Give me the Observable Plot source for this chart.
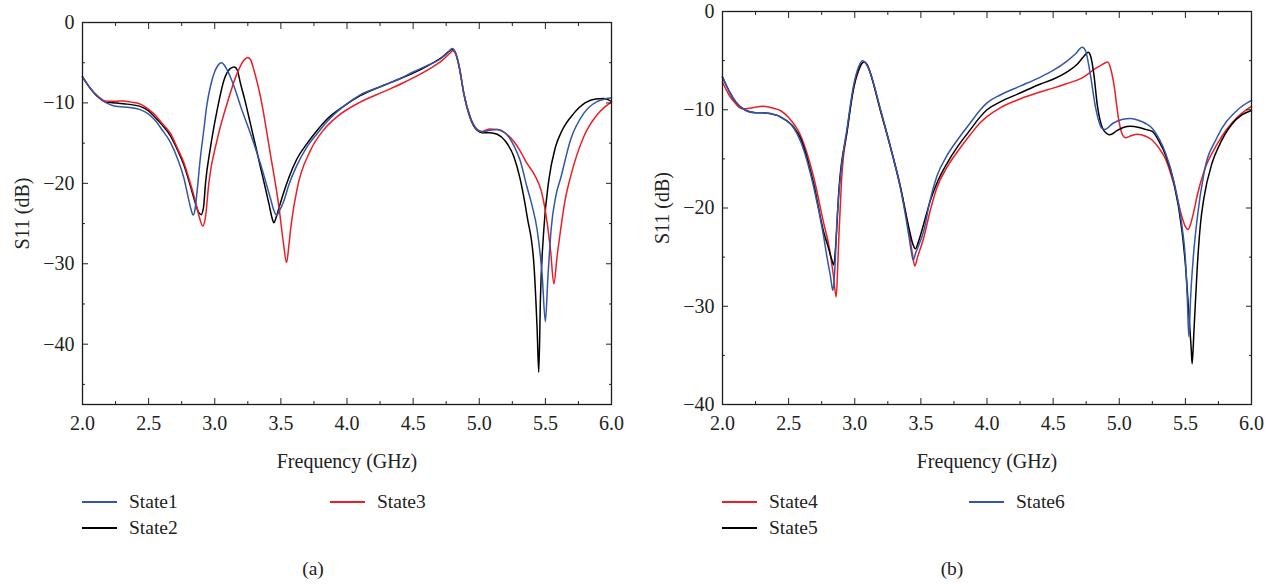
<!DOCTYPE html>
<html>
<head>
<meta charset="utf-8">
<script src="https://cdn.jsdelivr.net/npm/d3@7"></script>
<script src="https://cdn.jsdelivr.net/npm/@observablehq/plot@0.6"></script>
<style>
html, body { margin: 0; padding: 0; background: #fff; }
#fig { position: relative; width: 1273px; height: 584px; overflow: hidden;
  font-family: "Liberation Serif", "Tinos", "DejaVu Serif", serif; color: #222; }
.panel { position: absolute; top: 0; }
.sw { position: absolute; height: 1.6px; width: 35px; }
.lt { position: absolute; font-size: 19.5px; line-height: 20px; height: 20px; white-space: nowrap; }
</style>
</head>
<body>
<div id="fig"></div>
<script>
// ---------- tick values ----------
const xMajor = [2.0, 2.5, 3.0, 3.5, 4.0, 4.5, 5.0, 5.5, 6.0];
const xMinor = [2.25, 2.75, 3.25, 3.75, 4.25, 4.75, 5.25, 5.75];
const yMajorA = [0, -10, -20, -30, -40];
const yMinorA = [-5, -15, -25, -35, -45];
const yMajorB = [0, -10, -20, -30, -40];
const yMinorB = [-5, -15, -25, -35];
const yDomainA = [-47.5, 0];
const yDomainB = [-40, 0];

// ---------- panel (a) series: [frequency GHz, S11 dB] ----------
const state1 = [
  [2.00,-6.75],[2.06,-8.2],[2.12,-9.3],[2.18,-10.0],[2.25,-10.4],[2.32,-10.5],[2.43,-10.8],[2.50,-11.4],
  [2.55,-12.2],[2.60,-13.3],[2.665,-14.9],[2.72,-17.0],[2.766,-19.3],[2.80,-21.8],[2.82,-23.2],[2.837,-23.95],
  [2.85,-23.3],[2.867,-20.9],[2.89,-17.0],[2.917,-13.4],[2.94,-10.3],[2.968,-7.9],[3.00,-6.1],[3.018,-5.5],
  [3.051,-5.02],[3.08,-5.5],[3.119,-6.8],[3.16,-8.6],[3.195,-10.4],[3.27,-13.8],[3.346,-17.6],[3.42,-21.8],
  [3.45,-23.5],[3.467,-23.97],[3.49,-23.4],[3.52,-22.3],[3.56,-20.2],[3.62,-17.8],[3.70,-15.4],[3.775,-13.8],
  [3.85,-12.3],[3.976,-10.4],[4.1,-9.0],[4.25,-8.0],[4.4,-7.0],[4.5,-6.15],[4.6,-5.4],[4.7,-4.6],[4.76,-3.8],
  [4.795,-3.23],[4.82,-3.7],[4.85,-5.6],[4.883,-8.8],[4.93,-11.7],[4.984,-13.3],[5.022,-13.6],[5.08,-13.4],
  [5.136,-13.3],[5.2,-13.8],[5.262,-15.3],[5.31,-17.2],[5.36,-20.4],[5.40,-22.8],[5.438,-25.8],[5.476,-31.5],
  [5.50,-37.2],[5.518,-32.0],[5.543,-25.8],[5.58,-21.5],[5.615,-19.4],[5.69,-14.6],[5.79,-11.3],[5.89,-9.84],
  [5.95,-9.5],[6.0,-9.4]
];
const state2 = [
  [2.00,-6.75],[2.06,-8.2],[2.12,-9.3],[2.18,-9.9],[2.25,-10.0],[2.31,-10.1],[2.43,-10.4],[2.50,-11.0],
  [2.55,-11.8],[2.60,-12.7],[2.665,-14.1],[2.72,-15.9],[2.766,-17.7],[2.81,-20.0],[2.85,-22.3],[2.875,-23.5],
  [2.897,-23.9],[2.915,-23.0],[2.93,-20.0],[2.968,-15.5],[3.018,-10.9],[3.069,-7.2],[3.119,-5.7],[3.149,-5.52],
  [3.17,-5.9],[3.195,-7.6],[3.23,-9.8],[3.27,-12.6],[3.346,-18.0],[3.409,-22.5],[3.435,-24.4],[3.447,-24.9],
  [3.465,-24.2],[3.49,-22.8],[3.52,-21.2],[3.56,-19.3],[3.62,-17.0],[3.70,-15.0],[3.775,-13.4],[3.85,-12.0],
  [3.976,-10.4],[4.1,-9.1],[4.278,-7.8],[4.4,-7.0],[4.5,-6.3],[4.63,-5.2],[4.72,-4.3],[4.77,-3.6],[4.795,-3.35],
  [4.82,-3.8],[4.85,-5.7],[4.883,-8.8],[4.93,-11.8],[4.984,-13.4],[5.022,-13.7],[5.08,-13.7],[5.136,-13.9],
  [5.2,-14.8],[5.262,-16.7],[5.31,-19.5],[5.363,-24.2],[5.413,-30.0],[5.438,-38.3],[5.45,-43.5],[5.463,-34.1],
  [5.488,-25.8],[5.526,-19.6],[5.576,-15.5],[5.627,-13.4],[5.715,-11.3],[5.80,-10.0],[5.88,-9.5],[5.94,-9.45],
  [6.0,-9.8]
];
const state3 = [
  [2.00,-6.75],[2.06,-8.2],[2.12,-9.2],[2.18,-9.8],[2.25,-9.8],[2.31,-9.75],[2.37,-9.9],[2.43,-10.1],
  [2.50,-10.8],[2.55,-11.5],[2.60,-12.5],[2.665,-13.8],[2.72,-15.7],[2.766,-17.4],[2.81,-19.7],[2.85,-22.0],
  [2.88,-24.0],[2.91,-25.3],[2.93,-24.2],[2.955,-20.0],[3.018,-14.6],[3.093,-10.1],[3.17,-6.3],[3.22,-4.7],
  [3.25,-4.35],[3.27,-4.6],[3.296,-5.9],[3.346,-9.25],[3.42,-16.3],[3.485,-22.9],[3.52,-27.5],[3.543,-29.85],
  [3.56,-27.8],[3.573,-25.8],[3.62,-20.9],[3.724,-15.9],[3.826,-13.3],[3.926,-11.7],[4.1,-9.9],[4.278,-8.6],
  [4.45,-7.3],[4.63,-5.7],[4.72,-4.7],[4.78,-3.8],[4.80,-3.5],[4.825,-4.0],[4.855,-6.0],[4.883,-8.8],
  [4.93,-11.7],[4.984,-13.3],[5.022,-13.55],[5.08,-13.25],[5.136,-13.3],[5.2,-13.8],[5.262,-14.8],[5.31,-16.0],
  [5.36,-17.5],[5.42,-19.0],[5.47,-21.0],[5.51,-24.5],[5.54,-28.5],[5.564,-32.5],[5.589,-29.0],[5.615,-25.8],
  [5.65,-22.0],[5.69,-19.2],[5.79,-14.2],[5.89,-11.5],[5.95,-10.5],[6.0,-9.9]
];

// ---------- panel (b) series ----------
const state4 = [
  [2.00,-7.2],[2.05,-8.5],[2.10,-9.4],[2.15,-9.9],[2.20,-9.85],[2.31,-9.64],[2.40,-9.9],[2.44,-10.1],
  [2.50,-10.8],[2.59,-12.6],[2.69,-16.9],[2.766,-21.6],[2.804,-23.8],[2.837,-26.7],[2.86,-29.06],[2.872,-25.7],
  [2.882,-22.3],[2.90,-17.2],[2.943,-12.1],[2.993,-7.7],[3.03,-6.0],[3.069,-5.15],[3.10,-5.6],[3.119,-6.3],
  [3.195,-10.1],[3.27,-13.8],[3.346,-17.9],[3.409,-22.3],[3.435,-24.6],[3.454,-25.9],[3.475,-25.0],[3.522,-23.0],
  [3.57,-20.3],[3.62,-18.0],[3.70,-15.8],[3.775,-14.3],[3.87,-12.6],[3.95,-11.3],[4.0,-10.7],[4.1,-9.8],
  [4.25,-8.9],[4.4,-8.2],[4.5,-7.8],[4.6,-7.35],[4.73,-6.68],[4.81,-5.9],[4.87,-5.4],[4.913,-5.15],[4.935,-5.8],
  [4.959,-7.36],[4.997,-11.1],[5.02,-12.4],[5.047,-12.85],[5.09,-12.65],[5.136,-12.5],[5.2,-12.7],[5.25,-13.1],
  [5.30,-13.9],[5.35,-15.0],[5.413,-17.6],[5.476,-21.0],[5.50,-21.9],[5.521,-22.2],[5.54,-21.6],[5.565,-20.3],
  [5.59,-18.7],[5.64,-16.3],[5.74,-13.5],[5.89,-10.8],[6.0,-9.66]
];
const state5 = [
  [2.00,-6.67],[2.05,-8.1],[2.10,-9.2],[2.174,-10.05],[2.25,-10.3],[2.30,-10.3],[2.42,-10.6],[2.44,-10.75],
  [2.54,-11.8],[2.59,-12.9],[2.69,-17.6],[2.766,-22.5],[2.80,-24.0],[2.825,-25.2],[2.842,-25.8],[2.855,-24.0],
  [2.88,-18.2],[2.943,-12.1],[2.993,-7.7],[3.03,-5.9],[3.069,-5.15],[3.10,-5.6],[3.119,-6.3],[3.195,-10.1],
  [3.27,-13.8],[3.346,-17.9],[3.409,-22.0],[3.44,-23.7],[3.459,-24.15],[3.48,-23.5],[3.522,-21.6],[3.57,-19.3],
  [3.62,-17.5],[3.70,-15.4],[3.775,-13.8],[3.87,-12.1],[3.95,-10.7],[4.0,-10.0],[4.1,-9.2],[4.25,-8.3],
  [4.4,-7.4],[4.5,-6.9],[4.6,-6.2],[4.68,-5.4],[4.73,-4.6],[4.765,-4.14],[4.785,-4.6],[4.808,-6.4],[4.833,-9.4],
  [4.883,-12.1],[4.929,-12.55],[4.98,-12.15],[5.03,-11.8],[5.085,-11.67],[5.15,-11.8],[5.2,-12.0],[5.25,-12.2],
  [5.30,-13.2],[5.35,-14.6],[5.413,-17.4],[5.476,-22.5],[5.50,-25.7],[5.526,-30.7],[5.545,-34.5],[5.551,-35.85],
  [5.565,-32.5],[5.59,-26.0],[5.615,-21.5],[5.64,-19.0],[5.70,-15.5],[5.75,-13.8],[5.85,-11.5],[5.93,-10.5],
  [6.0,-10.07]
];
const state6 = [
  [2.00,-6.67],[2.05,-8.1],[2.10,-9.2],[2.174,-10.05],[2.25,-10.3],[2.30,-10.3],[2.42,-10.6],[2.44,-10.75],
  [2.54,-11.9],[2.59,-13.2],[2.69,-17.9],[2.766,-23.0],[2.79,-25.0],[2.817,-27.0],[2.834,-28.4],[2.848,-26.5],
  [2.865,-21.5],[2.89,-17.0],[2.943,-11.8],[2.993,-7.4],[3.03,-5.6],[3.057,-5.0],[3.09,-5.4],[3.119,-6.3],
  [3.195,-10.0],[3.27,-13.8],[3.346,-18.0],[3.409,-22.8],[3.43,-24.6],[3.442,-25.3],[3.46,-24.6],[3.522,-22.3],
  [3.57,-19.2],[3.62,-16.8],[3.70,-14.6],[3.775,-13.1],[3.87,-11.4],[3.95,-10.0],[4.0,-9.3],[4.1,-8.5],
  [4.25,-7.6],[4.4,-6.7],[4.5,-6.0],[4.6,-5.1],[4.67,-4.3],[4.72,-3.63],[4.745,-4.0],[4.78,-6.3],[4.82,-9.7],
  [4.87,-11.9],[4.89,-12.0],[4.95,-11.4],[5.02,-11.0],[5.085,-10.9],[5.15,-11.1],[5.2,-11.4],[5.25,-11.9],
  [5.30,-12.9],[5.35,-14.4],[5.413,-17.3],[5.476,-22.0],[5.50,-25.2],[5.515,-29.3],[5.526,-33.1],[5.54,-29.0],
  [5.56,-25.0],[5.59,-21.0],[5.64,-16.5],[5.74,-12.8],[5.89,-10.07],[6.0,-9.05]
];

// ---------- series names, colours, captions ----------
const namesA = ["State1", "State2", "State3"];
const namesB = ["State4", "State5", "State6"];
const colorsA = ["#3356a8", "#000000", "#ee1d25"];
const colorsB = ["#ee1d25", "#000000", "#3356a8"];
const valuesA = [state1, state2, state3];
const valuesB = [state4, state5, state6];
const drawOrderA = ["State2", "State3", "State1"];
const drawOrderB = ["State4", "State5", "State6"];
const xLabel = "Frequency (GHz)";
const yLabel = "S11 (dB)";
const captions = ["(a)", "(b)"];

const FONT = '"Liberation Serif", "Tinos", "DejaVu Serif", serif';

function makePanel(names, colors, values, order, yDomain, yMaj, yMin, marginTop) {
  const rows = [];
  order.forEach(n => {
    const i = names.indexOf(n);
    values[i].forEach(([f, v]) => rows.push({f, v, name: n}));
  });
  const H = 470, bottom = 404;
  return Plot.plot({
    width: 631, height: H,
    marginLeft: 82, marginRight: 20, marginTop, marginBottom: H - bottom,
    x: {domain: [2, 6]},
    y: {domain: yDomain},
    color: {domain: names, range: colors},
    style: {fontFamily: FONT, fontSize: "20px", color: "#222", background: "transparent", overflow: "visible"},
    marks: [
      Plot.line(rows, {x: "f", y: "v", z: "name", stroke: "name", strokeWidth: 1.5, curve: "monotone-x"}),
      Plot.frame({stroke: "#1a1a1a", strokeWidth: 1.3}),
      // inward major / minor ticks on all four sides
      Plot.axisX({anchor: "bottom", ticks: xMajor, tickSize: 6, dy: -6, tickFormat: () => "", label: null}),
      Plot.axisX({anchor: "bottom", ticks: xMinor, tickSize: 3, dy: -3, tickFormat: () => "", label: null}),
      Plot.axisX({anchor: "top", ticks: xMajor, tickSize: 6, dy: 6, tickFormat: () => "", label: null}),
      Plot.axisX({anchor: "top", ticks: xMinor, tickSize: 3, dy: 3, tickFormat: () => "", label: null}),
      Plot.axisY({anchor: "left", ticks: yMaj, tickSize: 6, dx: 6, tickFormat: () => "", label: null}),
      Plot.axisY({anchor: "left", ticks: yMin, tickSize: 3, dx: 3, tickFormat: () => "", label: null}),
      Plot.axisY({anchor: "right", ticks: yMaj, tickSize: 6, dx: -6, tickFormat: () => "", label: null}),
      Plot.axisY({anchor: "right", ticks: yMin, tickSize: 3, dx: -3, tickFormat: () => "", label: null}),
      // tick labels and axis titles
      Plot.axisX({anchor: "bottom", ticks: xMajor, tickSize: 0, tickPadding: 11, tickFormat: d3.format(".1f"),
        label: xLabel, labelAnchor: "center", labelOffset: 63, labelArrow: "none"}),
      Plot.axisY({anchor: "left", ticks: yMaj, tickSize: 0, tickPadding: 8,
        label: yLabel, labelAnchor: "center", labelOffset: 68, labelArrow: "none"})
    ]
  });
}

const fig = document.getElementById("fig");

function addPanel(left, names, colors, values, order, yDomain, yMaj, yMin, marginTop, legendCols, caption, capX) {
  const wrap = document.createElement("div");
  wrap.className = "panel";
  wrap.style.left = left + "px";
  wrap.appendChild(makePanel(names, colors, values, order, yDomain, yMaj, yMin, marginTop));
  fig.appendChild(wrap);
  // legend: two columns, first column holds two entries
  const rowsY = [502, 528];
  names.forEach((n, i) => {
    const col = i < 2 ? 0 : 1;
    const row = i < 2 ? i : 0;
    const x0 = left + legendCols[col];
    const y = rowsY[row];
    const sw = document.createElement("div");
    sw.className = "sw";
    sw.style.left = x0 + "px";
    sw.style.top = (y - 0.8) + "px";
    sw.style.background = colors[i];
    fig.appendChild(sw);
    const t = document.createElement("div");
    t.className = "lt";
    t.textContent = n;
    t.style.left = (x0 + 47) + "px";
    t.style.top = (y - 10.2) + "px";
    fig.appendChild(t);
  });
  const c = document.createElement("div");
  c.className = "lt";
  c.textContent = caption;
  c.style.left = (capX - 20) + "px";
  c.style.width = "40px";
  c.style.textAlign = "center";
  c.style.top = (569 - 10.2) + "px";
  fig.appendChild(c);
}

addPanel(0, namesA, colorsA, valuesA, drawOrderA, yDomainA, yMajorA, yMinorA, 22, [82, 330], captions[0], 313);
addPanel(640, namesB, colorsB, valuesB, drawOrderB, yDomainB, yMajorB, yMinorB, 11, [82, 329], captions[1], 952);
</script>
</body>
</html>
